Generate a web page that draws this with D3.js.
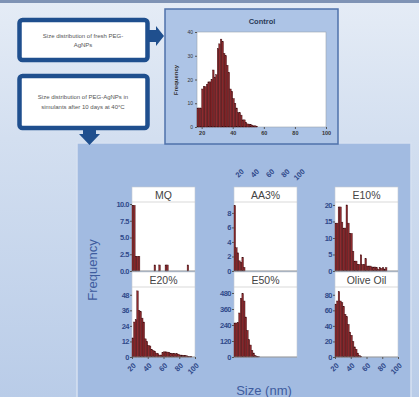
<!DOCTYPE html>
<html><head><meta charset="utf-8">
<script src="https://cdn.jsdelivr.net/npm/d3@7"></script>
<style>html,body{margin:0;padding:0;overflow:hidden;background:#dfe7f3}</style>
</head><body>
<svg id="c" width="419" height="397" xmlns="http://www.w3.org/2000/svg"></svg>
<script>
// ---------------- DATA ----------------
const sizeTicks = [20, 40, 60, 80, 100];
const panelNames = ["MQ", "AA3%", "E10%", "E20%", "E50%", "Olive Oil"];
const binStart = 20, binWidth = 2;           // nm
const mqCounts    = [9.8, 9.8, 2.2, 2.2, 2.2, 0, 0, 0, 0, 0, 0, 0, 0, 0, 0.9, 0, 0, 0.9, 0, 0, 0, 0.9, 0.9, 0, 0, 0, 0, 0, 0, 0, 0, 0, 0, 0, 0, 0.9];
const aa3Counts   = [9, 3.2, 2.5, 1.4, 1.2, 1.9, 0.5];
const e10Counts   = [14.5, 14.5, 19.4, 19.4, 14.8, 13, 13, 20, 14.5, 11.4, 11.4, 6, 3, 3, 2, 2, 4.9, 2, 2, 3.7, 1.5, 1.5, 1.5, 1.2, 1.2, 1.2, 1, 0.5, 1, 0.8, 1, 0.6, 1];
const e20Counts   = [14.7, 27, 28.7, 51, 36, 35, 30, 27, 14, 12, 9, 8.5, 6, 5, 4.5, 3, 2.5, 1.5, 1.5, 3.5, 4, 4, 3.8, 3.5, 3, 2.7, 2.5, 2.5, 2.5, 2.2, 1.5, 1.5, 1.3, 1.2, 1, 0.6, 0.5, 0.4];
const e50Counts   = [255, 255, 260, 330, 440, 475, 420, 300, 200, 130, 90, 50, 30, 12, 5, 2];
const oliveCounts = [68, 72, 84, 72, 70, 65, 55, 52, 42, 32, 28, 20, 13, 10, 5, 2, 1];
const yTicksMQ = [0, 2.5, 5, 7.5, 10];
const yTicksAA3 = [0, 2, 4, 6, 8];
const yTicksE10 = [0, 5, 10, 15, 20];
const yTicksE20 = [0, 12, 24, 36, 48];
const yTicksE50 = [0, 120, 240, 360, 480];
const yTicksOlive = [0, 20, 40, 60, 80];
const yMaxes = [10.3, 9.5, 20.9, 54, 525, 90];

const controlStart = 17, controlBin = 1;     // nm
const controlCounts = [8, 8, 8, 16, 17, 17, 18, 19, 19, 20, 24, 21, 22, 33, 35, 37, 36, 31, 30, 26, 23, 16, 15, 12, 10, 8, 6, 6, 5, 3, 3, 2, 1.3, 1.2, 1, 0.8, 0.5, 0.5, 0.3];
const controlYTicks = [0, 10, 20, 30, 40];

const box1Lines = ["Size distribution of fresh PEG-", "AgNPs"];
const box2Lines = ["Size distribution of PEG-AgNPs in", "simulants after 10 days at 40°C"];

// ---------------- DRAW ----------------
const svg = d3.select("#c");
const FONT = "'Liberation Sans', Arial, sans-serif";
const BAR_FILL = "#8e2a2e", BAR_STROKE = "#3a0a0d";
const TICK_COL = "#30498a";

const defs = svg.append("defs");
const bg = defs.append("linearGradient").attr("id", "bg").attr("x1", 0).attr("y1", 0).attr("x2", 0).attr("y2", 1);
bg.append("stop").attr("offset", "0").attr("stop-color", "#e5ecf6");
bg.append("stop").attr("offset", "0.35").attr("stop-color", "#d3dff0");
bg.append("stop").attr("offset", "1").attr("stop-color", "#b9cce8");
svg.append("rect").attr("width", 419).attr("height", 397).attr("fill", "url(#bg)");
svg.append("rect").attr("width", 419).attr("height", 3).attr("fill", "#7f93b5");

// big lower panel
svg.append("rect").attr("x", 77).attr("y", 143).attr("width", 334).attr("height", 262)
  .attr("fill", "#a2bbe1").attr("stroke", "#d6e1f1").attr("stroke-width", 1.5);

// left call-out boxes
const BOX_COL = "#1f4f8e";
svg.append("path").attr("d", "M146,30 L156,30 L156,26 L164,36 L156,46 L156,42 L146,42 Z").attr("fill", BOX_COL);
svg.append("rect").attr("x", 19.5).attr("y", 20).attr("width", 128).attr("height", 40).attr("rx", 3)
  .attr("fill", "#fff").attr("stroke", BOX_COL).attr("stroke-width", 4.5);
svg.append("path").attr("d", "M83,126 L96,126 L96,134 L100,134 L89.5,145 L79,134 L83,134 Z").attr("fill", BOX_COL);
svg.append("rect").attr("x", 19.5).attr("y", 76).attr("width", 128).attr("height", 52).attr("rx", 3)
  .attr("fill", "#fff").attr("stroke", BOX_COL).attr("stroke-width", 4.5);
box1Lines.forEach((t, i) => svg.append("text").attr("x", 83).attr("y", 38 + i * 9).attr("text-anchor", "middle")
  .attr("font-family", FONT).attr("font-size", 6).attr("fill", "#555").text(t));
box2Lines.forEach((t, i) => svg.append("text").attr("x", 83).attr("y", 99 + i * 10).attr("text-anchor", "middle")
  .attr("font-family", FONT).attr("font-size", 6).attr("fill", "#555").text(t));

// control panel
svg.append("rect").attr("x", 165).attr("y", 9).attr("width", 173).attr("height", 135)
  .attr("fill", "#adc4e6").attr("stroke", "#4f72aa").attr("stroke-width", 1.5);
const cx0 = 197, cx1 = 326, cy0 = 32, cy1 = 127;
svg.append("rect").attr("x", cx0).attr("y", cy0).attr("width", cx1 - cx0).attr("height", cy1 - cy0)
  .attr("fill", "#fff").attr("stroke", "#9aa3b0").attr("stroke-width", 0.6);
const xsC = d3.scaleLinear().domain([17, 100]).range([cx0, cx1]);
const ysC = d3.scaleLinear().domain([0, 40]).range([cy1, cy0]);
svg.append("g").selectAll("rect")
  .data(controlCounts.map((v, i) => ({ v, i })).filter(d => d.v > 0)).join("rect")
  .attr("x", d => xsC(controlStart + d.i * controlBin))
  .attr("width", d => xsC(controlStart + (d.i + 1) * controlBin) - xsC(controlStart + d.i * controlBin))
  .attr("y", d => ysC(d.v)).attr("height", d => ysC(0) - ysC(d.v))
  .attr("fill", BAR_FILL).attr("stroke", BAR_STROKE).attr("stroke-width", 0.4);
const cya = svg.append("g").attr("transform", `translate(${cx0},0)`)
  .call(d3.axisLeft(ysC).tickValues(controlYTicks).tickSize(2).tickPadding(2));
cya.select(".domain").remove();
cya.selectAll("text").attr("font-family", FONT).attr("font-size", 5).attr("fill", "#333");
cya.selectAll("line").attr("stroke", "#555");
const cxa = svg.append("g").attr("transform", `translate(0,${cy1})`)
  .call(d3.axisBottom(xsC).tickValues(sizeTicks).tickSize(2).tickPadding(2));
cxa.select(".domain").remove();
cxa.selectAll("text").attr("font-family", FONT).attr("font-size", 5.5).attr("font-weight", "bold").attr("fill", "#333");
cxa.selectAll("line").attr("stroke", "#555");
svg.append("text").attr("x", 262).attr("y", 24).attr("text-anchor", "middle")
  .attr("font-family", FONT).attr("font-size", 7.5).attr("font-weight", "bold").attr("fill", "#2b3a58").text("Control");
svg.append("text").attr("transform", "translate(178,80) rotate(-90)").attr("text-anchor", "middle")
  .attr("font-family", FONT).attr("font-size", 6).attr("font-weight", "bold").attr("fill", "#333").text("Frequency");

// six sub-panels
const series = [mqCounts, aa3Counts, e10Counts, e20Counts, e50Counts, oliveCounts];
const tickSets = [yTicksMQ, yTicksAA3, yTicksE10, yTicksE20, yTicksE50, yTicksOlive];
const fmts = [d3.format(".1f"), d3.format("d"), d3.format("d"), d3.format("d"), d3.format("d"), d3.format("d")];
const cols = [132, 234, 335];
const rowTop = [187, 272];
const bandH = 15;
const plotH = [69, 70];
const panelW = 63;

series.forEach((counts, k) => {
  const r = Math.floor(k / 3), c = k % 3;
  const x0 = cols[c], top = rowTop[r], py0 = top + bandH, py1 = py0 + plotH[r];
  const g = svg.append("g");
  g.append("rect").attr("x", x0).attr("y", top).attr("width", panelW).attr("height", bandH + plotH[r])
    .attr("fill", "#fff").attr("stroke", "#c4c9d2").attr("stroke-width", 0.6);
  g.append("line").attr("x1", x0).attr("x2", x0 + panelW).attr("y1", py0).attr("y2", py0)
    .attr("stroke", "#c8c8c8").attr("stroke-width", 0.7);
  g.append("text").attr("x", x0 + panelW / 2).attr("y", top + 11.5).attr("text-anchor", "middle")
    .attr("font-family", FONT).attr("font-size", 10.5).attr("fill", "#444").text(panelNames[k]);
  const xs = d3.scaleLinear().domain([20, 100]).range([x0, x0 + panelW]);
  const ys = d3.scaleLinear().domain([0, yMaxes[k]]).range([py1, py0]);
  g.append("g").selectAll("rect")
    .data(counts.map((v, i) => ({ v, i })).filter(d => d.v > 0)).join("rect")
    .attr("x", d => xs(binStart + d.i * binWidth))
    .attr("width", d => xs(binStart + (d.i + 1) * binWidth) - xs(binStart + d.i * binWidth))
    .attr("y", d => ys(d.v)).attr("height", d => ys(0) - ys(d.v))
    .attr("fill", BAR_FILL).attr("stroke", BAR_STROKE).attr("stroke-width", 0.4);
  g.append("line").attr("x1", x0).attr("x2", x0 + panelW).attr("y1", py1).attr("y2", py1)
    .attr("stroke", "#8a8a8a").attr("stroke-width", 0.8);
  const ya = g.append("g").attr("transform", `translate(${x0},0)`)
    .call(d3.axisLeft(ys).tickValues(tickSets[k]).tickSize(2).tickPadding(1).tickFormat(fmts[k]));
  ya.select(".domain").remove();
  ya.selectAll("line").attr("stroke", "#555");
  ya.selectAll("text").attr("font-family", FONT).attr("font-size", 7.5).attr("font-weight", "bold")
    .attr("letter-spacing", -0.5).attr("fill", TICK_COL);
  if (r === 1 && c !== 1) {
    const xa = g.append("g").attr("transform", `translate(0,${py1})`)
      .call(d3.axisBottom(xs).tickValues(sizeTicks).tickSize(2).tickFormat(d3.format("d")));
    xa.select(".domain").remove();
    xa.selectAll("line").attr("stroke", "#555");
    xa.selectAll("text").attr("x", 0).attr("y", 0).attr("dy", 0).attr("text-anchor", "end")
      .attr("transform", "translate(4,9) rotate(-45)")
      .attr("font-family", FONT).attr("font-size", 7.5).attr("font-weight", "bold").attr("fill", TICK_COL);
  }
});

// stray rotated size labels above AA3%
const xsTop = d3.scaleLinear().domain([20, 100]).range([240, 301]);
const ta = svg.append("g").attr("transform", "translate(0,163)")
  .call(d3.axisBottom(xsTop).tickValues(sizeTicks).tickSize(0).tickFormat(d3.format("d")));
ta.select(".domain").remove();
ta.selectAll("text").attr("x", 0).attr("y", 0).attr("dy", 0).attr("text-anchor", "end")
  .attr("transform", "translate(4,9) rotate(-45)")
  .attr("font-family", FONT).attr("font-size", 7.5).attr("font-weight", "bold").attr("fill", TICK_COL);

// axis titles
svg.append("text").attr("transform", "translate(97,270) rotate(-90)").attr("text-anchor", "middle")
  .attr("font-family", FONT).attr("font-size", 13).attr("fill", "#3e5c9e").text("Frequency");
svg.append("text").attr("x", 264).attr("y", 395).attr("text-anchor", "middle")
  .attr("font-family", FONT).attr("font-size", 13).attr("fill", "#3e5c9e").text("Size (nm)");
</script>
</body></html>
